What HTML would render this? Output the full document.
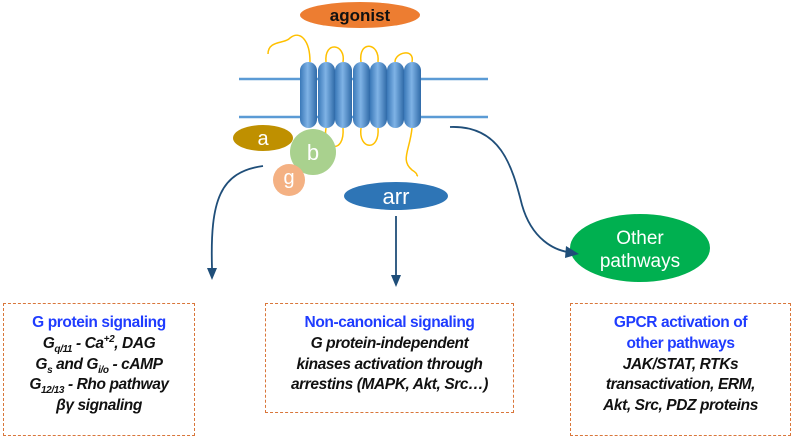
<!DOCTYPE html>
<html><head><style>
body{margin:0;width:798px;height:438px;background:#fff;overflow:hidden;position:relative;font-family:"Liberation Sans",sans-serif}
.box{position:absolute;border:1.5px dashed #d9763a;text-align:center;font-weight:bold;font-style:italic;font-size:15.5px;line-height:20.8px;color:#111;box-sizing:border-box;padding-top:9px;letter-spacing:-0.4px}
.t{color:#1f3cff;font-style:normal}
sub,sup{font-size:10px;line-height:0}
</style></head><body>
<svg width="798" height="438" style="position:absolute;left:0;top:0">
<defs><linearGradient id="h" x1="0" x2="1"><stop offset="0" stop-color="#3a78b8"/><stop offset="0.45" stop-color="#7fb3e6"/><stop offset="1" stop-color="#2f6aa8"/></linearGradient></defs>
<line x1="239" y1="79" x2="488" y2="79" stroke="#5b9bd5" stroke-width="2.5"/>
<line x1="239" y1="117" x2="488" y2="117" stroke="#5b9bd5" stroke-width="2.5"/>
<g fill="none" stroke="#ffc000" stroke-width="1.5">
<path d="M268 54 C268 40 285 44 290 38 C300 30 310 40 310 62"/>
<path d="M326 62 C324 40 346 44 343 62"/>
<path d="M361 62 C358 40 380 42 378 62"/>
<path d="M395 62 C395 52 415 48 412 62"/>
<path d="M326 128 C322 150 345 155 343 128"/>
<path d="M361 128 C358 150 380 152 378 128"/>
<path d="M412 128 C410 150 400 160 412 170 C420 175 415 175 418 176"/>
</g>
<g fill="url(#h)">
<rect x="300" y="62" width="17" height="66" rx="8.5"/>
<rect x="318" y="62" width="17" height="66" rx="8.5"/>
<rect x="335" y="62" width="17" height="66" rx="8.5"/>
<rect x="353" y="62" width="17" height="66" rx="8.5"/>
<rect x="370" y="62" width="17" height="66" rx="8.5"/>
<rect x="387" y="62" width="17" height="66" rx="8.5"/>
<rect x="404" y="62" width="17" height="66" rx="8.5"/>
</g>
<ellipse cx="360" cy="15" rx="60" ry="13" fill="#ed7d31"/>
<text x="360" y="21" font-size="17" font-weight="bold" text-anchor="middle" fill="#111">agonist</text>
<ellipse cx="263" cy="138" rx="30" ry="13" fill="#bf9000"/>
<text x="263" y="145" font-size="20" text-anchor="middle" fill="#fff">a</text>
<circle cx="313" cy="152" r="23" fill="#a9d18e"/>
<text x="313" y="160" font-size="22" text-anchor="middle" fill="#fff">b</text>
<circle cx="289" cy="180" r="16" fill="#f4b183"/>
<text x="289" y="184" font-size="20" text-anchor="middle" fill="#fff">g</text>
<ellipse cx="396" cy="196" rx="52" ry="14" fill="#2e75b6"/>
<text x="396" y="204" font-size="22" text-anchor="middle" fill="#fff">arr</text>
<ellipse cx="640" cy="248" rx="70" ry="34" fill="#00b050"/>
<text x="640" y="244" font-size="19" text-anchor="middle" fill="#fff">Other</text>
<text x="640" y="267" font-size="19" text-anchor="middle" fill="#fff">pathways</text>
<g stroke="#1f4e79" stroke-width="1.8" fill="none">
<path d="M263 166 C220 172 210 200 212 268"/>
<line x1="396" y1="216" x2="396" y2="276"/>
<path d="M450 127 C500 125 512 165 522 205 C532 240 555 250 568 252"/>
</g>
<g fill="#1f4e79">
<path d="M207 268 L217 268 L212 280 Z"/>
<path d="M391 275 L401 275 L396 287 Z"/>
<path d="M566 246 L579 254 L565 258 Z"/>
</g>
</svg>
<div class="box" style="left:3px;top:303px;width:192px;height:133px"><span class="t">G protein signaling</span><br>G<sub>q/11</sub> - Ca<sup>+2</sup>, DAG<br>G<sub>s</sub> and G<sub>i/o</sub> - cAMP<br>G<sub>12/13</sub> - Rho pathway<br>βγ signaling</div>
<div class="box" style="left:265px;top:303px;width:249px;height:110px"><span class="t">Non-canonical signaling</span><br>G protein-independent<br>kinases activation through<br>arrestins (MAPK, Akt, Src…)</div>
<div class="box" style="left:570px;top:303px;width:221px;height:133px"><span class="t">GPCR activation of<br>other pathways</span><br>JAK/STAT, RTKs<br>transactivation, ERM,<br>Akt, Src, PDZ proteins</div>
</body></html>
